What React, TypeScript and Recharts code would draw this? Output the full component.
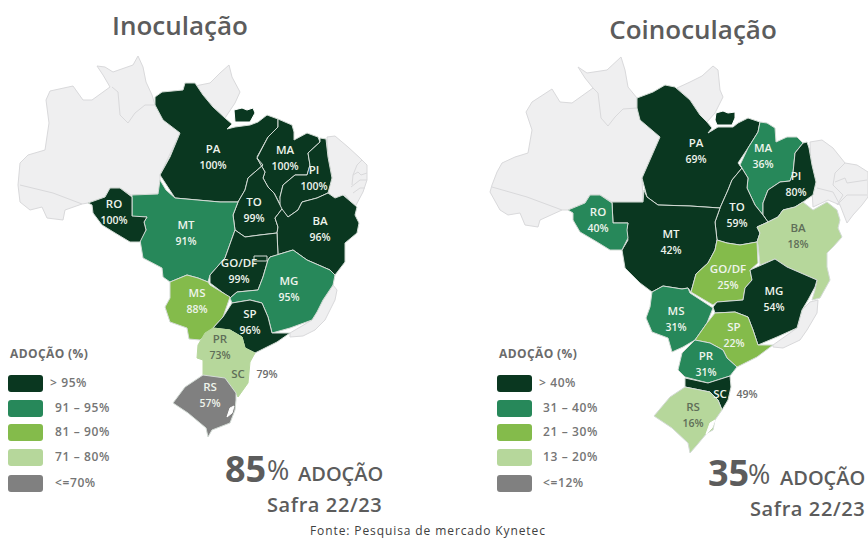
import React from 'react';
import { ScatterChart, Scatter, XAxis, YAxis } from 'recharts';

type Pt = [number, number];
const WIDTH = 868;
const HEIGHT = 538;

const FONT = '"Open Sans", sans-serif';
const GREY_TEXT = '#5c5c5c';
const DARK = '#0a3720';
const MID = '#27885a';
const LIME = '#84bb4b';
const PALE = '#b6d79b';
const GREY = '#808080';
const LAND = '#efeff0';
const LAND_LINE = '#d9d9db';
const BORDER = '#d3dbd5';

// ---- classes
const inocClassLabels = ['> 95%', '91 – 95%', '81 – 90%', '71 – 80%', '<=70%'];
const coinClassLabels = ['> 40%', '31 – 40%', '21 – 30%', '13 – 20%', '<=12%'];
const classColors = [DARK, MID, LIME, PALE, GREY];
const inocLowerBounds = [96, 91, 81, 71, 0];
const coinLowerBounds = [41, 31, 21, 13, 0];

// ---- adoption values
const stateNames = ['PA', 'MA', 'PI', 'TO', 'BA', 'MT', 'RO', 'GO/DF', 'MG', 'MS', 'SP', 'PR', 'SC', 'RS'];
const inocValues = [100, 100, 100, 99, 96, 91, 100, 99, 95, 88, 96, 73, 79, 57];
const coinValues = [69, 36, 80, 59, 18, 42, 40, 25, 54, 31, 22, 31, 49, 16];

// ---- label anchors (map coordinates)
const inocLabelXY: Pt[] = [[213, 150], [285, 151], [314, 171], [254, 203], [320, 222], [186, 226], [114, 205], [239, 264], [289, 282], [197, 294], [250, 315], [220, 340], [238, 375], [210, 388]];
const coinLabelXY: Pt[] = [[696, 144], [763, 149], [796, 177], [737, 208], [798, 229], [671, 235], [598, 213], [728, 270], [774, 292], [676, 312], [734, 328], [706, 357], [720, 395], [693, 408]];
const inocSCValueXY: Pt = [267, 375];
const coinSCValueXY: Pt = [747, 395];

// ---- outlines, left map
const inocLand: Pt[][] = [
  [[18, 185], [20, 163], [28, 155], [45, 150], [49, 123], [46, 100], [50, 91], [73, 86], [83, 100], [92, 100], [110, 87], [103, 75], [97, 66], [105, 67], [113, 72], [133, 65], [138, 56], [143, 67], [146, 82], [152, 95], [155, 105], [175, 110], [180, 133], [160, 175], [160, 194], [131, 195], [120, 188], [110, 188], [105, 197], [88, 203], [82, 204], [65, 210], [63, 220], [47, 218], [42, 207], [30, 210], [20, 202]],
  [[195, 86], [210, 83], [220, 73], [229, 65], [232, 77], [240, 92], [235, 103], [225, 118], [213, 107], [203, 95]],
  [[327, 137], [335, 136], [348, 147], [360, 158], [367, 165], [367, 180], [363, 192], [355, 207], [345, 195], [330, 200], [328, 190], [332, 178], [328, 157]],
  [[290, 333], [312, 320], [323, 300], [333, 285], [337, 290], [335, 300], [325, 320], [315, 330], [303, 336], [290, 337]],
];
const inocLandLines: Pt[][] = [
  [[20, 185], [53, 193], [82, 204]],
  [[112, 87], [118, 92], [120, 115], [128, 123], [135, 113], [145, 105], [155, 105]],
  [[352, 185], [353, 175], [357, 165], [362, 160]],
  [[353, 175], [358, 172], [361, 175], [367, 173]],
  [[351, 187], [360, 180], [367, 180]],
  [[353, 193], [360, 188], [365, 188]],
];
const inocAP: Pt[] = [[234, 110], [242, 108], [247, 110], [253, 108], [255, 113], [250, 122], [235, 122]];
const inocOutlines: Pt[][] = [
  [[155, 97], [162, 92], [183, 90], [185, 83], [195, 83], [203, 95], [213, 107], [225, 118], [232, 124], [227, 129], [235, 127], [250, 125], [258, 122], [267, 115], [278, 119], [278, 127], [268, 137], [257, 157], [263, 165], [248, 178], [245, 190], [238, 202], [220, 202], [175, 198], [160, 175], [170, 157], [180, 133], [163, 120], [155, 105]],
  [[278, 119], [285, 122], [292, 125], [294, 132], [294, 140], [307, 133], [318, 137], [320, 142], [308, 153], [310, 165], [307, 175], [295, 175], [283, 185], [280, 197], [282, 208], [274, 193], [268, 187], [263, 178], [265, 172], [257, 158], [268, 137], [278, 127]],
  [[320, 138], [326, 139], [328, 157], [332, 178], [328, 193], [317, 198], [302, 202], [298, 210], [288, 217], [280, 208], [280, 197], [283, 185], [295, 175], [307, 175], [310, 165], [308, 153], [320, 142]],
  [[257, 158], [263, 165], [248, 178], [245, 190], [238, 202], [233, 215], [235, 230], [245, 237], [260, 235], [277, 233], [278, 227], [275, 218], [282, 209], [274, 193], [268, 187], [263, 178], [265, 172]],
  [[282, 209], [288, 217], [298, 210], [302, 202], [317, 198], [328, 193], [335, 198], [343, 195], [357, 207], [355, 215], [359, 223], [357, 233], [345, 243], [345, 262], [335, 275], [330, 270], [307, 260], [293, 250], [270, 257], [278, 255], [277, 233], [278, 227], [275, 218]],
  [[132, 195], [158, 194], [160, 180], [166, 190], [175, 198], [220, 202], [238, 202], [233, 215], [235, 230], [225, 258], [210, 275], [208, 282], [198, 278], [187, 275], [170, 282], [163, 277], [162, 268], [143, 258], [140, 240], [146, 230], [144, 222], [147, 217], [132, 217]],
  [[88, 203], [105, 197], [110, 188], [120, 188], [132, 197], [132, 216], [147, 217], [144, 222], [146, 230], [140, 242], [130, 242], [115, 233], [102, 225], [93, 213], [92, 205]],
  [[235, 230], [245, 237], [260, 235], [277, 233], [278, 255], [270, 257], [268, 260], [263, 277], [258, 290], [237, 292], [230, 298], [210, 283], [210, 275], [225, 258]],
  [[270, 257], [293, 250], [307, 260], [330, 270], [335, 275], [333, 285], [323, 300], [317, 312], [312, 320], [290, 328], [272, 333], [268, 317], [262, 303], [250, 300], [232, 303], [230, 298], [237, 292], [258, 290], [263, 277], [268, 260]],
  [[170, 282], [187, 275], [198, 278], [208, 282], [210, 285], [230, 297], [223, 317], [213, 328], [200, 340], [189, 339], [187, 328], [170, 322], [165, 307], [170, 298]],
  [[232, 303], [250, 300], [262, 303], [268, 317], [272, 333], [290, 333], [277, 342], [255, 353], [245, 348], [242, 337], [230, 330], [213, 328], [223, 317]],
  [[213, 328], [230, 330], [242, 337], [245, 348], [255, 353], [250, 362], [203, 360], [197, 358], [198, 345], [205, 333]],
  [[203, 360], [250, 362], [248, 383], [238, 397], [236, 393], [225, 378], [203, 375]],
  [[203, 375], [225, 378], [236, 393], [236, 400], [235, 410], [230, 423], [212, 430], [208, 437], [206, 428], [188, 413], [173, 403], [185, 387]],
];
const inocDF: Pt[] = [[254, 256], [267, 256], [267, 261], [254, 261]];
const inocLagoon: Pt[] = [[227, 417], [230, 408], [234, 406], [232, 413]];

// ---- outlines, right map
const coinLand: Pt[][] = [
  [[492, 185], [497, 172], [502, 163], [515, 157], [528, 153], [532, 130], [526, 112], [532, 102], [552, 89], [560, 102], [572, 103], [593, 88], [585, 78], [578, 67], [587, 73], [607, 70], [621, 57], [625, 70], [628, 87], [637, 98], [637, 108], [660, 137], [642, 178], [643, 202], [612, 202], [600, 195], [590, 195], [585, 203], [568, 210], [562, 210], [540, 220], [538, 227], [525, 225], [520, 213], [508, 215], [500, 210], [490, 192]],
  [[677, 88], [690, 82], [702, 76], [713, 66], [718, 70], [720, 90], [723, 97], [715, 113], [707, 122], [700, 115], [690, 100]],
  [[810, 142], [822, 140], [833, 148], [845, 163], [857, 165], [868, 172], [868, 197], [862, 205], [853, 215], [847, 223], [840, 205], [828, 200], [813, 207], [812, 190]],
  [[773, 345], [797, 328], [802, 310], [810, 302], [818, 300], [817, 313], [807, 330], [800, 340], [783, 348], [773, 347]],
];
const coinLandLines: Pt[][] = [
  [[492, 187], [527, 197], [562, 210]],
  [[593, 88], [598, 93], [601, 118], [608, 126], [615, 117], [623, 109], [637, 108]],
  [[833, 185], [835, 173], [845, 163]],
  [[835, 182], [845, 178], [847, 183], [867, 180]],
  [[833, 185], [843, 195], [837, 205]],
  [[837, 205], [847, 195], [867, 195]],
  [[817, 188], [833, 192], [840, 205]],
];
const coinAP: Pt[] = [[716, 113], [723, 111], [728, 113], [735, 112], [735, 118], [732, 125], [717, 125], [715, 120]];
const coinOutlines: Pt[][] = [
  [[637, 98], [653, 92], [665, 85], [675, 87], [690, 100], [700, 115], [707, 122], [712, 128], [708, 133], [718, 127], [733, 127], [738, 123], [748, 118], [760, 122], [758, 132], [748, 148], [738, 163], [742, 168], [732, 180], [728, 190], [720, 208], [690, 206], [658, 205], [647, 197], [642, 178], [660, 137], [640, 120], [637, 108]],
  [[760, 122], [767, 123], [775, 128], [776, 142], [787, 137], [797, 137], [803, 143], [795, 153], [793, 173], [790, 181], [780, 182], [768, 190], [763, 203], [763, 215], [755, 205], [747, 188], [748, 178], [740, 165], [748, 148], [758, 132]],
  [[803, 143], [807, 142], [809, 148], [812, 165], [816, 182], [813, 195], [803, 202], [795, 207], [783, 210], [778, 217], [768, 222], [763, 215], [763, 203], [768, 190], [780, 182], [790, 181], [793, 173], [795, 153]],
  [[740, 165], [742, 168], [732, 180], [728, 190], [720, 208], [715, 222], [717, 240], [727, 243], [740, 245], [757, 242], [760, 233], [757, 227], [768, 222], [763, 215], [755, 205], [747, 188], [748, 178]],
  [[757, 227], [768, 222], [778, 217], [783, 210], [795, 207], [803, 202], [813, 210], [827, 202], [837, 210], [840, 220], [838, 228], [842, 237], [833, 247], [827, 253], [827, 267], [830, 280], [820, 298], [812, 300], [815, 290], [817, 280], [787, 267], [775, 259], [760, 265], [758, 245], [757, 242], [760, 233]],
  [[612, 202], [643, 202], [644, 190], [647, 197], [658, 205], [690, 206], [720, 208], [715, 222], [717, 240], [715, 250], [708, 263], [696, 274], [691, 292], [688, 288], [682, 289], [663, 286], [652, 292], [640, 283], [625, 268], [622, 250], [628, 240], [626, 232], [628, 223], [613, 223]],
  [[568, 210], [585, 203], [590, 195], [600, 195], [612, 203], [613, 223], [628, 223], [627, 230], [628, 238], [622, 250], [610, 250], [597, 242], [580, 232], [573, 220], [573, 213]],
  [[717, 240], [727, 243], [740, 245], [757, 242], [758, 263], [750, 270], [752, 280], [745, 288], [743, 300], [717, 302], [713, 305], [691, 292], [696, 274], [708, 263], [715, 250]],
  [[750, 270], [775, 259], [787, 267], [817, 280], [815, 287], [808, 300], [802, 310], [797, 328], [777, 337], [758, 345], [753, 330], [748, 317], [735, 312], [715, 313], [713, 307], [717, 302], [743, 300], [745, 288], [752, 280]],
  [[652, 292], [663, 286], [682, 289], [688, 288], [690, 293], [713, 308], [707, 323], [695, 340], [683, 347], [672, 352], [668, 338], [652, 332], [646, 318], [650, 307]],
  [[715, 313], [735, 312], [748, 317], [753, 330], [758, 345], [773, 345], [757, 357], [737, 367], [727, 358], [723, 350], [710, 343], [695, 340], [707, 323]],
  [[695, 340], [710, 343], [723, 350], [727, 358], [737, 367], [730, 376], [708, 383], [685, 377], [678, 370], [682, 353]],
  [[685, 378], [708, 383], [730, 376], [731, 387], [728, 400], [722, 410], [718, 400], [710, 392], [685, 387]],
  [[685, 387], [710, 392], [718, 400], [722, 410], [715, 420], [713, 430], [707, 433], [697, 445], [690, 453], [688, 443], [672, 428], [654, 416], [670, 397]],
];
const coinDF: Pt[] = [];
const coinLagoon: Pt[] = [[706, 434], [710, 423], [715, 420], [712, 428]];

// ---- plain texts
const inocTitle = 'Inoculação';
const coinTitle = 'Coinoculação';
const legendTitle = 'ADOÇÃO (%)';
const inocShare = '85';
const coinShare = '35';
const percentSign = '%';
const adoptionWord = 'ADOÇÃO';
const seasonText = 'Safra 22/23';
const sourceText = 'Fonte: Pesquisa de mercado Kynetec';

const toRows = (pts: Pt[]) => pts.concat([pts[0]]).map(([x, y]) => ({ x, y }));
const classColor = (v: number, bounds: number[]) => classColors[bounds.findIndex((b) => v >= b)];
const noDot = () => <g />;

function poly(key: string, pts: Pt[], fill: string, stroke: string) {
  return (
    <Scatter
      key={key}
      data={toRows(pts)}
      shape={noDot}
      line={{ fill, stroke, strokeWidth: 1, strokeLinejoin: 'round' }}
      isAnimationActive={false}
    />
  );
}

function openLine(key: string, pts: Pt[]) {
  return (
    <Scatter
      key={key}
      data={pts.map(([x, y]) => ({ x, y }))}
      shape={noDot}
      line={{ fill: 'none', stroke: LAND_LINE, strokeWidth: 1 }}
      isAnimationActive={false}
    />
  );
}

type TextStyle = { size: number; weight?: number; color?: string; anchor?: string; spacing?: number; family?: string };

function label(key: string, x: number, y: number, text: string, s: TextStyle) {
  return (
    <Scatter
      key={key}
      data={[{ x, y }]}
      isAnimationActive={false}
      shape={(p: any) => (
        <text
          x={p.cx}
          y={p.cy}
          textAnchor={(s.anchor ?? 'start') as any}
          dominantBaseline="middle"
          fontFamily={s.family ?? FONT}
          fontSize={s.size}
          fontWeight={s.weight ?? 400}
          fill={s.color ?? GREY_TEXT}
          letterSpacing={s.spacing}
        >
          {text}
        </text>
      )}
    />
  );
}

function swatch(key: string, x: number, y: number, color: string) {
  return (
    <Scatter
      key={key}
      data={[{ x, y }]}
      isAnimationActive={false}
      shape={(p: any) => <rect x={p.cx} y={p.cy} width={35} height={17} rx={3} fill={color} />}
    />
  );
}

function drawMap(
  id: string,
  land: Pt[][],
  lines: Pt[][],
  ap: Pt[],
  outlines: Pt[][],
  df: Pt[],
  lagoon: Pt[],
  values: number[],
  bounds: number[],
  xy: Pt[],
  scValue: Pt,
) {
  const marks: React.ReactNode[] = [];
  land.forEach((p, i) => marks.push(poly(`${id}-land${i}`, p, LAND, LAND_LINE)));
  lines.forEach((p, i) => marks.push(openLine(`${id}-line${i}`, p)));
  outlines.forEach((p, i) => {
    const c = classColor(values[i], bounds);
    marks.push(poly(`${id}-st${i}`, p, c, stateNames[i] === 'PR' || stateNames[i] === 'SC' ? (id === 'a' ? c : BORDER) : BORDER));
  });
  marks.push(poly(`${id}-ap`, ap, classColor(values[0], bounds), '#ffffff'));
  if (df.length) marks.push(poly(`${id}-df`, df, DARK, BORDER));
  marks.push(poly(`${id}-lag`, lagoon, '#ffffff', '#ffffff'));
  stateNames.forEach((name, i) => {
    const c = classColor(values[i], bounds);
    const isPale = c === PALE;
    const ink = isPale ? '#5f6e58' : '#eef4ec';
    const isSC = name === 'SC';
    marks.push(label(`${id}-n${i}`, xy[i][0], xy[i][1], name, { size: 11.5, weight: 600, color: ink, anchor: 'middle' }));
    if (isSC) {
      marks.push(label(`${id}-v${i}`, scValue[0], scValue[1], `${values[i]}%`, { size: 10.5, weight: 600, color: '#6b6b6b', anchor: 'middle' }));
    } else {
      marks.push(label(`${id}-v${i}`, xy[i][0], xy[i][1] + 16.5, `${values[i]}%`, { size: 10.5, weight: 600, color: ink, anchor: 'middle' }));
    }
  });
  return marks;
}

function drawLegend(id: string, x: number, labels: string[], textX: number, firstX: number) {
  const marks: React.ReactNode[] = [];
  const rows = [375, 400, 424, 449, 475];
  marks.push(label(`${id}-lt`, x + 2, 355, legendTitle, { size: 12, weight: 700, color: '#6b6b6b', spacing: 0.4 }));
  rows.forEach((y, i) => {
    marks.push(swatch(`${id}-sw${i}`, x, y, classColors[i]));
    marks.push(label(`${id}-ll${i}`, i === 0 ? firstX : textX, y + 9, labels[i], { size: 12, weight: 600, color: '#757575', spacing: 0.6 }));
  });
  return marks;
}

export default function App() {
  return (
    <div style={{ position: 'absolute', left: 0, top: 0, width: WIDTH, height: HEIGHT, background: '#ffffff' }}>
      <ScatterChart width={WIDTH} height={HEIGHT} margin={{ top: 0, right: 0, bottom: 0, left: 0 }}>
        <XAxis type="number" dataKey="x" domain={[0, WIDTH]} hide />
        <YAxis type="number" dataKey="y" domain={[0, HEIGHT]} reversed hide />
        {drawMap('a', inocLand, inocLandLines, inocAP, inocOutlines, inocDF, inocLagoon, inocValues, inocLowerBounds, inocLabelXY, inocSCValueXY)}
        {drawMap('b', coinLand, coinLandLines, coinAP, coinOutlines, coinDF, coinLagoon, coinValues, coinLowerBounds, coinLabelXY, coinSCValueXY)}
        {drawLegend('a', 8, inocClassLabels, 55, 50)}
        {drawLegend('b', 497, coinClassLabels, 543, 539)}
        {label('t1', 180, 28, inocTitle, { size: 26, weight: 600, anchor: 'middle' })}
        {label('t2', 693, 32, coinTitle, { size: 26, weight: 600, anchor: 'middle' })}
        {label('s1', 225, 472, inocShare, { size: 36, weight: 700 })}
        {label('p1', 267, 473, percentSign, { size: 27, weight: 400 })}
        {label('w1', 298, 476, adoptionWord, { size: 20, weight: 600 })}
        {label('f1', 267, 507, seasonText, { size: 20, weight: 600, spacing: 0.6 })}
        {label('s2', 708, 476, coinShare, { size: 36, weight: 700 })}
        {label('p2', 748, 477, percentSign, { size: 27, weight: 400 })}
        {label('w2', 780, 480, adoptionWord, { size: 20, weight: 600 })}
        {label('f2', 750, 511, seasonText, { size: 20, weight: 600, spacing: 0.6 })}
        {label('src', 310, 532, sourceText, { size: 12, weight: 400, color: '#404040', spacing: 0.9 })}
      </ScatterChart>
    </div>
  );
}
